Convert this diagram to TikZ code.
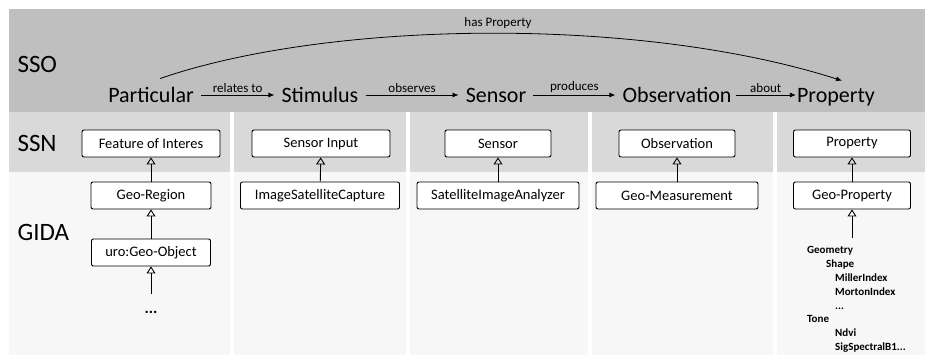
\documentclass[tikz,border=0pt]{standalone}
\usepackage{fontspec}
\setmainfont{Carlito}
\usepackage{tikz}
\usetikzlibrary{arrows.meta}
\tikzset{>={Latex[length=6pt,width=5pt]}}
\usepackage{xcolor}
\definecolor{ssogray}{gray}{0.75}
\definecolor{ssngray}{gray}{0.85}
\definecolor{gidagray}{gray}{0.97}
\tikzstyle{layer}=[anchor=west,font=\fontsize{25}{30}\selectfont]
\tikzstyle{concept}=[anchor=base,font=\fontsize{22}{26}\selectfont,inner sep=3]
\tikzstyle{rel}=[above,font=\fontsize{13}{15}\selectfont,inner sep=2]
\tikzstyle{cls}=[draw,line width=0.9,rounded corners=2,fill=white,minimum height=27,inner sep=2,font=\fontsize{14.5}{17}\selectfont]
\tikzstyle{gen}=[-{Triangle[open,width=9pt,length=7pt]},line width=0.9]

\begin{document}
\begin{tikzpicture}[x=1pt,y=-1pt]
    \fill[white] (0,0) rectangle (927,356);
    \useasboundingbox (0,0) rectangle (927,356);

    % layers
    \fill[ssogray] (9,9) rectangle (925,112);
    \foreach \xa/\xb in {9/230,234/406,410/588,592/773,777/925}{
        \fill[ssngray] (\xa,112) rectangle (\xb,172);
        \fill[gidagray] (\xa,172) rectangle (\xb,355);
    }
    \node[layer] (sso) at (14,64) {SSO};
    \node[layer] (ssn) at (14,143) {SSN};
    \node[layer] (gida) at (14,232) {GIDA};

    % SSO concepts
    \node[concept] (part) at (151,102) {Particular};
    \node[concept] (stim) at (320,102) {Stimulus};
    \node[concept] (sens) at (496,102) {Sensor};
    \node[concept] (obs) at (677,102) {Observation};
    \node[concept] (prop) at (836,102) {Property};

    \draw[->,thick] ([xshift=4pt,yshift=7pt]part.base east) -- node[rel] {relates to} ([xshift=-4pt,yshift=7pt]stim.base west);
    \draw[->,thick] ([xshift=4pt,yshift=7pt]stim.base east) -- node[rel] {observes} ([xshift=-4pt,yshift=7pt]sens.base west);
    \draw[->,thick] ([xshift=4pt,yshift=7pt]sens.base east) -- node[rel] {produces} ([xshift=-4pt,yshift=7pt]obs.base west);
    \draw[->,thick] ([xshift=1pt,yshift=7pt]obs.base east) -- node[rel] {about} ([xshift=2pt,yshift=7pt]prop.base west);

    \draw[->,thick] ([xshift=9pt,yshift=5pt]part.north) .. controls (330,20) and (640,16) .. ([xshift=6pt,yshift=4pt]prop.north);
    \node[font=\fontsize{13}{15}\selectfont] (hasprop) at (498,23) {has Property};

    % SSN
    \node[cls,minimum width=138] (foi) at (151,143.5) {Feature of Interes};
    \node[cls,minimum width=138] (sin) at (321,143.5) {Sensor Input};
    \node[cls,minimum width=106] (ssensor) at (498,143.5) {Sensor};
    \node[cls,minimum width=116] (sobs) at (677,143.5) {Observation};
    \node[cls,minimum width=117] (sprop) at (852,143.5) {Property};

    % GIDA
    \node[cls,minimum width=120] (georeg) at (151,195.5) {Geo-Region};
    \node[cls,minimum width=119] (uro) at (151,252.5) {uro:Geo-Object};
    \node[cls,minimum width=159] (capture) at (320,195.5) {ImageSatelliteCapture};
    \node[cls,minimum width=162] (analyzer) at (498,195.5) {SatelliteImageAnalyzer};
    \node[cls,minimum width=162] (geomeas) at (677,195.5) {Geo-Measurement};
    \node[cls,minimum width=117] (geoprop) at (852,195.5) {Geo-Property};
    \node[anchor=north,inner sep=0,text height=19,font=\fontsize{16}{18}\selectfont\bfseries] (more) at (151,294) {...};

    \node[anchor=north west,align=left,inner sep=0,font=\fontsize{11}{13.9}\selectfont\bfseries] (plist) at (807,246) {Geometry\\
        \hspace*{19pt}Shape\\
        \hspace*{28pt}MillerIndex\\
        \hspace*{28pt}MortonIndex\\
        \hspace*{28pt}...\\
        Tone\\
        \hspace*{28pt}Ndvi\\
        \hspace*{28pt}SigSpectralB1...};

    \draw[gen] (georeg) -- (foi);
    \draw[gen] (capture) -- (sin);
    \draw[gen] (analyzer) -- (ssensor);
    \draw[gen] (geomeas) -- (sobs);
    \draw[gen] (geoprop) -- (sprop);
    \draw[gen] (uro) -- (georeg);
    \draw[gen] (more.north) -- (uro);
    \draw[gen] ([yshift=8pt]geoprop.south |- plist.north) -- (geoprop);

\end{tikzpicture}
\end{document}
